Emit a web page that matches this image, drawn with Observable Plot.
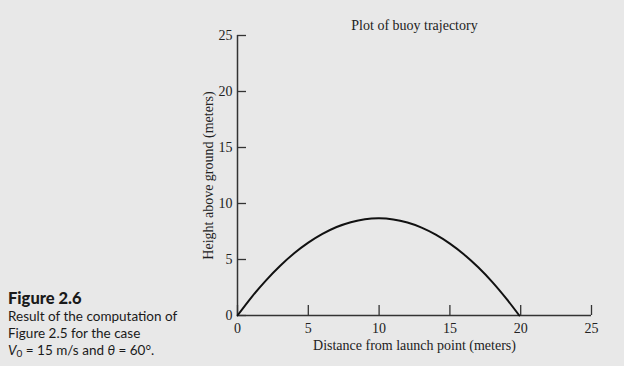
<!DOCTYPE html>
<html>
<head>
<meta charset="utf-8">
<script src="https://cdn.jsdelivr.net/npm/d3@7"></script>
<script src="https://cdn.jsdelivr.net/npm/@observablehq/plot@0.6"></script>
<style>
  html, body { margin: 0; padding: 0; background: #e8e8e8; }
  #wrap { position: relative; width: 624px; height: 366px; overflow: hidden; }
  #caption { position: absolute; left: 8px; top: 289px; font-family: Lato, "Noto Sans", sans-serif; color: #1a1a1a; font-size: 13.5px; line-height: 17px; }
  #caption .fig { font-weight: 900; font-size: 16.5px; line-height: 19px; }
</style>
</head>
<body>
<div id="wrap">
  <div id="plot"></div>
  <div id="caption">
    <div class="fig">Figure 2.6</div>
    <div>Result of the computation of</div>
    <div>Figure 2.5 for the case</div>
    <div><i>V</i><sub style="font-size:10px;vertical-align:-2px">0</sub> = 15 m/s and <i>θ</i> = 60°.</div>
  </div>
</div>
<script>
// Trajectory
const distance = [0, 1, 2, 3, 4, 5, 6, 7, 8, 9, 10, 11, 12, 13, 14, 15, 16, 17, 18, 19, 19.9];
const height   = [0, 1.65, 3.12, 4.42, 5.55, 6.5, 7.28, 7.9, 8.33, 8.6, 8.68, 8.58, 8.3, 7.85, 7.22, 6.42, 5.45, 4.3, 2.98, 1.48, 0];
const xTicks = [0, 5, 10, 15, 20, 25];
const yTicks = [0, 5, 10, 15, 20, 25];
const title = "Plot of buoy trajectory";
const xLabel = "Distance from launch point (meters)";
const yLabel = "Height above ground (meters)";

const pts = distance.map((d, i) => ({x: d, y: height[i]}));

const W = 624, H = 366, mL = 237, mR = 33, mT = 35, mB = 51;
const plotW = W - mL - mR, plotH = H - mT - mB;

const chart = Plot.plot({
  width: W, height: H,
  marginLeft: mL, marginRight: mR, marginTop: mT, marginBottom: mB,
  style: {background: "#e8e8e8", fontFamily: "'Liberation Serif', 'DejaVu Serif', serif", fontSize: "14px", color: "#222", overflow: "visible"},
  x: {domain: [0, 25]},
  y: {domain: [0, 25]},
  marks: [
    Plot.axisX({ticks: xTicks, tickSize: 0, tickPadding: 8, label: null, fontSize: 14}),
    Plot.axisY({ticks: yTicks, tickSize: 0, tickPadding: 5, label: null, fontSize: 14}),
    Plot.ruleX([0], {stroke: "#333", strokeWidth: 1.5}),
    Plot.ruleY([0], {stroke: "#333", strokeWidth: 1.5}),
    Plot.tickX(xTicks, {x: d => d, insetTop: plotH - 10, stroke: "#333", strokeWidth: 1.3}),
    Plot.tickY(yTicks, {y: d => d, insetRight: plotW - 9, stroke: "#333", strokeWidth: 1.3}),
    Plot.line(pts, {x: "x", y: "y", stroke: "#111", strokeWidth: 2, curve: "catmull-rom"}),
    Plot.text([title], {text: d => d, frameAnchor: "top", dy: -15, fontSize: 14, fill: "#222"}),
    Plot.text([xLabel], {text: d => d, frameAnchor: "bottom", dy: 34, fontSize: 14, fill: "#222"}),
    Plot.text([yLabel], {text: d => d, frameAnchor: "left", textAnchor: "middle", dx: -29, rotate: -90, fontSize: 14, fill: "#222"})
  ]
});
document.getElementById("plot").appendChild(chart);
</script>
</body>
</html>
